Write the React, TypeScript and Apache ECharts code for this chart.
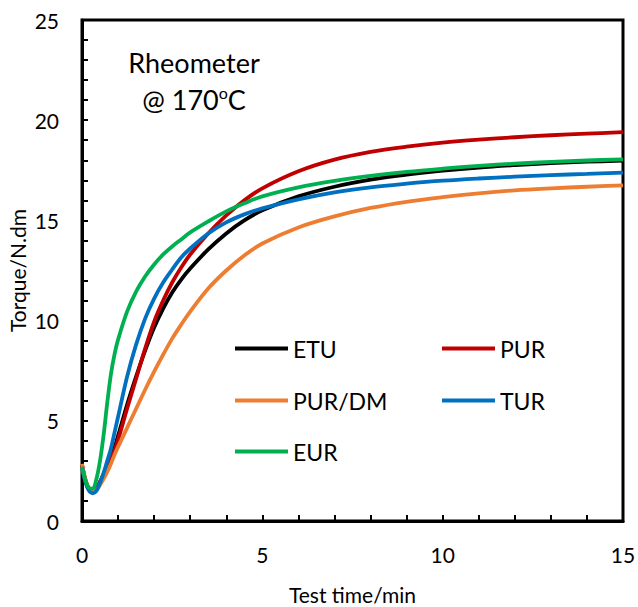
import React, { useEffect, useRef } from "react";
import * as echarts from "echarts";

const times = [0, 0.1, 0.2, 0.3, 0.4, 0.5, 0.6, 0.7, 0.8, 0.9, 1.0, 1.25, 1.5, 1.75, 2.0, 2.25, 2.5, 2.75, 3.0, 3.5, 4.0, 4.5, 5.0, 6, 7, 8, 9, 10, 11, 12, 13, 14, 15];

const etu = [2.8, 2.0, 1.55, 1.42, 1.6, 1.95, 2.35, 2.8, 3.2, 3.65, 4.25, 5.8, 7.2, 8.5, 9.65, 10.6, 11.4, 12.05, 12.6, 13.55, 14.35, 15.0, 15.5, 16.2, 16.68, 17.03, 17.28, 17.48, 17.64, 17.76, 17.86, 17.93, 17.98];
const pur = [2.8, 2.0, 1.55, 1.45, 1.6, 1.95, 2.3, 2.75, 3.1, 3.5, 4.05, 5.6, 7.1, 8.6, 9.95, 11.0, 11.9, 12.65, 13.3, 14.35, 15.25, 16.0, 16.6, 17.45, 18.03, 18.42, 18.68, 18.88, 19.03, 19.15, 19.25, 19.33, 19.4];
const purDm = [2.85, 2.05, 1.6, 1.45, 1.55, 1.8, 2.1, 2.45, 2.85, 3.3, 3.7, 4.65, 5.6, 6.55, 7.45, 8.3, 9.1, 9.8, 10.45, 11.6, 12.5, 13.25, 13.85, 14.65, 15.2, 15.62, 15.93, 16.16, 16.35, 16.5, 16.6, 16.68, 16.75];
const tur = [2.7, 1.9, 1.5, 1.38, 1.5, 1.9, 2.4, 3.0, 3.6, 4.4, 5.2, 7.2, 8.8, 10.1, 11.1, 11.9, 12.55, 13.15, 13.6, 14.35, 14.9, 15.3, 15.6, 16.05, 16.4, 16.65, 16.83, 16.98, 17.09, 17.18, 17.26, 17.32, 17.38];
const eur = [2.7, 2.0, 1.65, 1.62, 2.1, 3.0, 4.3, 5.9, 7.3, 8.3, 9.05, 10.45, 11.45, 12.2, 12.8, 13.3, 13.7, 14.05, 14.4, 14.95, 15.45, 15.85, 16.2, 16.65, 16.97, 17.22, 17.42, 17.58, 17.72, 17.83, 17.92, 17.99, 18.05];

const seriesNames = ["ETU", "PUR", "PUR/DM", "TUR", "EUR"];
const seriesValues = [etu, pur, purDm, tur, eur];
const seriesColors = ["#000000", "#C00000", "#ED7D31", "#0070C0", "#00B050"];
const legendPos = [
  { left: 235, top: 337 },
  { left: 442, top: 337 },
  { left: 235, top: 389 },
  { left: 442, top: 389 },
  { left: 235, top: 440 },
];

const FONT = "Lato";

export default function App() {
  const ref = useRef<HTMLDivElement>(null);
  useEffect(() => {
    if (!ref.current) return;
    document.body.style.margin = "0";
    const chart = echarts.init(ref.current, null, { renderer: "svg" });
    const series = seriesNames.map((name, i) => ({
      name,
      type: "line",
      data: times.map((t, j) => [t, seriesValues[i][j]]),
      smooth: 0.35,
      showSymbol: false,
      symbol: "none",
      lineStyle: { color: seriesColors[i], width: 3.8 },
      itemStyle: { color: seriesColors[i] },
    }));
    const legends = seriesNames.map((name, i) => ({
      data: [{ name, icon: "rect" }],
      left: legendPos[i].left,
      top: legendPos[i].top,
      padding: 0,
      itemWidth: 53,
      itemHeight: 4,
      itemGap: 6,
      selectedMode: false,
      textStyle: { fontFamily: FONT, fontSize: 23, color: "#000" },
    }));
    chart.setOption({
      animation: false,
      backgroundColor: "#fff",
      grid: {
        left: 82,
        right: 15,
        top: 20,
        bottom: 86,
        containLabel: false,
        outerBoundsMode: "none",
        show: true,
        borderColor: "#000",
        borderWidth: 3,
      },
      legend: legends,
      xAxis: {
        type: "value",
        min: 0,
        max: 15,
        interval: 1,
        name: "Test time/min",
        nameLocation: "middle",
        nameGap: 63,
        nameMoveOverlap: false,
        nameTextStyle: { fontFamily: FONT, fontSize: 21, color: "#000" },
        axisLine: { lineStyle: { color: "#000", width: 3 } },
        axisTick: { inside: true, length: 6, lineStyle: { color: "#000", width: 2 } },
        axisLabel: {
          margin: 23,
          fontFamily: FONT,
          fontSize: 21,
          color: "#000",
          formatter: (v: number) => (v % 5 === 0 ? String(v) : ""),
        },
        splitLine: { show: false },
      },
      yAxis: {
        type: "value",
        min: 0,
        max: 25,
        interval: 1,
        name: "Torque/N.dm",
        nameLocation: "middle",
        nameGap: 54,
        nameMoveOverlap: false,
        nameTextStyle: { fontFamily: FONT, fontSize: 21, color: "#000" },
        axisLine: { lineStyle: { color: "#000", width: 3 } },
        axisTick: { inside: true, length: 6, lineStyle: { color: "#000", width: 2 } },
        axisLabel: {
          margin: 23,
          fontFamily: FONT,
          fontSize: 21,
          color: "#000",
          formatter: (v: number) => (v % 5 === 0 ? String(v) : ""),
        },
        splitLine: { show: false },
      },
      graphic: [
        {
          type: "text",
          x: 194,
          y: 62,
          style: {
            text: "Rheometer",
            fontFamily: FONT,
            fontSize: 27,
            fill: "#000",
            align: "center",
            verticalAlign: "middle",
          },
        },
        {
          type: "text",
          x: 194,
          y: 99,
          style: {
            text: "@ 170{sup|o}C",
            fontFamily: FONT,
            fontSize: 27,
            fill: "#000",
            align: "center",
            verticalAlign: "middle",
            lineHeight: 30,
            rich: {
              sup: { fontFamily: FONT, fontSize: 16, verticalAlign: "top", lineHeight: 16, fill: "#000" },
            },
          },
        },
      ],
      series,
    });
    return () => chart.dispose();
  }, []);
  return <div ref={ref} style={{ position: "absolute", left: 0, top: 0, width: 638, height: 607 }} />;
}
